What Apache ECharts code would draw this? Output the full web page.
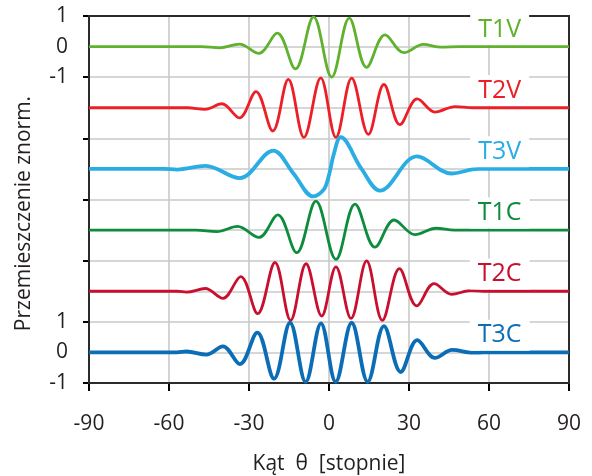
<!DOCTYPE html>
<html>
<head>
<meta charset="utf-8">
<script src="https://cdn.jsdelivr.net/npm/echarts@6/dist/echarts.min.js"></script>
<style>
  html, body { margin: 0; padding: 0; background: #fff; }
  #chart { width: 592px; height: 476px; }
</style>
</head>
<body>
<div id="chart"></div>
<script>
// Normalised displacement traces vs. angle (degrees); each trace is listed by its turning points
const traceNames = ['T1V', 'T2V', 'T3V', 'T1C', 'T2C', 'T3C'];
const traceOffsets = [0, -2, -4, -6, -8, -10];
const traceColors = ['#5fb12e', '#ec1f26', '#2aade4', '#0c8c3c', '#c8102e', '#0b6db6'];
const traceWidths = [2.8, 2.8, 3.8, 2.8, 2.8, 3.8];

const angT1V = [-90, -48, -40.9, -33.6, -26.3, -19.4, -12.6, -5.8, 1.0, 7.6, 14.1, 21, 28.1, 35.4, 42, 49, 90];
const valT1V = [0, 0, -0.04, 0.08, -0.22, 0.44, -0.73, 0.97, -1.0, 0.93, -0.68, 0.38, -0.20, 0.07, -0.02, 0, 0];

const angT2V = [-90, -53, -46.5, -40.2, -33.6, -27.4, -21.1, -15.25, -9.4, -3.1, 2.6, 8.5, 14.75, 20.6, 26.6, 33.1, 39.75, 47.3, 54, 90];
const valT2V = [0, 0, -0.05, 0.13, -0.33, 0.53, -0.76, 0.93, -0.97, 0.98, -0.97, 0.97, -0.87, 0.76, -0.55, 0.29, -0.14, 0.04, 0, 0];

const angT3V = [-90, -62, -57, -46.3, -33.5, -20.9, -13.4, -5.9, -2, 0, 1.7, 4.4, 12.2, 19.1, 33, 45.8, 56, 90];
const valT3V = [0, 0, -0.02, 0.10, -0.30, 0.60, -0.14, -0.90, -0.68, -0.2, 0.45, 1.04, 0, -0.71, 0.41, -0.15, 0, 0];

const angT1C = [-90, -50, -42.1, -34.3, -26.3, -19.2, -12.1, -4.9, 2.6, 9.75, 17.25, 24.4, 32.25, 40.2, 47, 90];
const valT1C = [0, 0, -0.05, 0.12, -0.24, 0.50, -0.74, 0.95, -0.96, 0.85, -0.56, 0.33, -0.15, 0.06, 0, 0];

const angT2C = [-90, -57, -53.4, -46.4, -39.8, -33.1, -26.75, -20.25, -14.4, -8.6, -2.75, 2.6, 8.25, 14.1, 20, 26.4, 32.9, 39.4, 46, 53, 58, 90];
const valT2C = [0, 0, -0.03, 0.09, -0.23, 0.48, -0.73, 0.94, -0.95, 0.90, -0.81, 0.80, -0.89, 0.99, -0.95, 0.74, -0.48, 0.25, -0.10, 0.02, 0, 0];

const angT3C = [-90, -57, -53.4, -46, -39.8, -33.4, -26.9, -20.6, -14.6, -8.75, -3, 2.5, 8.5, 14.5, 20.6, 26.9, 33.1, 39.75, 46.2, 54, 58, 90];
const valT3C = [0, 0, 0.03, -0.07, 0.20, -0.38, 0.65, -0.86, 0.97, -0.96, 0.95, -0.96, 0.97, -0.96, 0.86, -0.64, 0.40, -0.18, 0.08, -0.01, 0, 0];

const traceAngles = [angT1V, angT2V, angT3V, angT1C, angT2C, angT3C];
const traceValues = [valT1V, valT2V, valT3V, valT1C, valT2C, valT3C];

// Axis ticks and labels
const xTicks = [-90, -60, -30, 0, 30, 60, 90];
const yLabelValues = [1, 0, -1, -9, -10, -11];
const yLabelTexts = ['1', '0', '-1', '1', '0', '-1'];

const FONT = 'Open Sans';
const TEXT_COLOR = '#231f20';
const labelAngle = 64;
const labelLift = 0.56;

const chart = echarts.init(document.getElementById('chart'), null, { renderer: 'canvas' });

const series = traceNames.map((name, k) => ({
  name: name,
  type: 'line',
  smooth: 0.36,
  symbol: 'none',
  silent: true,
  lineStyle: { color: traceColors[k], width: traceWidths[k] },
  data: traceAngles[k].map((a, i) => [a, traceOffsets[k] + traceValues[k][i]]),
  markPoint: {
    silent: true,
    symbol: 'rect',
    symbolSize: 1,
    itemStyle: { color: 'rgba(0,0,0,0)' },
    label: {
      show: true,
      position: 'inside',
      formatter: name,
      fontFamily: FONT,
      fontSize: 25,
      lineHeight: 26,
      color: traceColors[k],
      backgroundColor: '#ffffff',
      padding: [5, 8, 0, 8]
    },
    data: [{ coord: [labelAngle, traceOffsets[k] + labelLift] }]
  }
}));

chart.setOption({
  animation: false,
  backgroundColor: '#ffffff',
  grid: {
    left: 89, top: 16, width: 480, height: 367,
    outerBoundsMode: 'none',
    containLabel: false,
    show: true, z: 1,
    borderColor: '#2b2b2b', borderWidth: 2,
    backgroundColor: 'transparent'
  },
  xAxis: {
    type: 'value',
    min: -90, max: 90, interval: 30,
    name: 'Kąt  θ  [stopnie]',
    nameLocation: 'middle',
    nameGap: 71,
    nameTextStyle: { fontFamily: FONT, fontSize: 21, color: TEXT_COLOR },
    axisLine: { show: true, onZero: false, lineStyle: { color: '#000', width: 2 } },
    axisTick: { show: true, inside: false, length: 8, lineStyle: { color: '#000', width: 2 } },
    axisLabel: {
      margin: 31, fontFamily: FONT, fontSize: 21, color: TEXT_COLOR,
      formatter: v => (xTicks.indexOf(v) >= 0 ? String(v) : '')
    },
    splitLine: { show: true, lineStyle: { color: '#c9c9c9', width: 1.6 } }
  },
  yAxis: [
    {
      type: 'value',
      min: -11, max: 1, interval: 1,
      name: 'Przemieszczenie znorm.',
      nameLocation: 'middle',
      nameGap: 54,
      nameTextStyle: { fontFamily: FONT, fontSize: 21, color: TEXT_COLOR, padding: [0, 28, 0, 0] },
      axisLine: { show: true, onZero: false, lineStyle: { color: '#000', width: 2 } },
      axisTick: { show: false },
      axisLabel: {
        margin: 21, fontFamily: FONT, fontSize: 21, color: TEXT_COLOR,
        formatter: v => {
          const i = yLabelValues.indexOf(v);
          return i >= 0 ? yLabelTexts[i] : '';
        }
      },
      splitLine: { show: true, lineStyle: { color: '#c9c9c9', width: 1.6 } }
    },
    {
      // tick marks every second unit along the left axis
      type: 'value',
      min: 0, max: 12, interval: 2,
      position: 'left',
      axisLine: { show: false, onZero: false },
      axisTick: { show: true, inside: false, length: 6, lineStyle: { color: '#000', width: 2 } },
      axisLabel: { show: false },
      splitLine: { show: false }
    }
  ],
  series: series
});
</script>
</body>
</html>
